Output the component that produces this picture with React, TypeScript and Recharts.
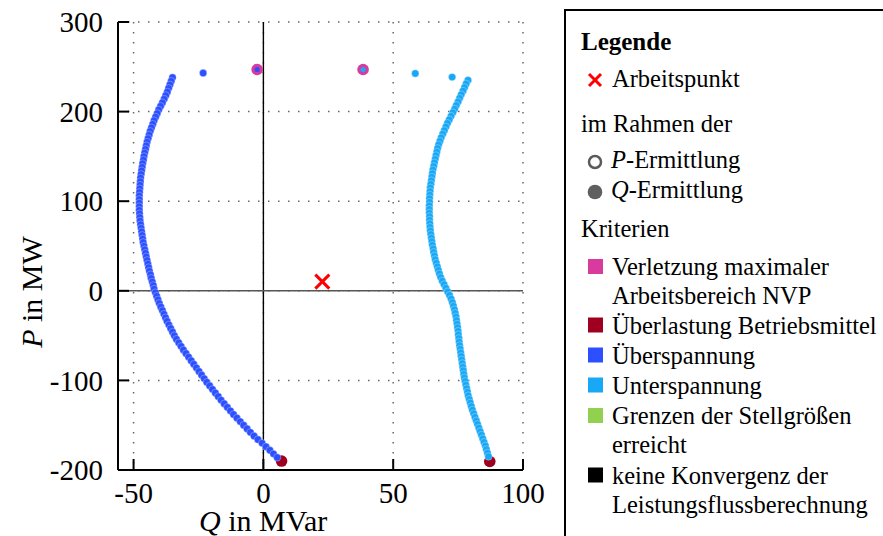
import React from "react"
import {
  CartesianGrid,
  ReferenceLine,
  Scatter,
  ScatterChart,
  XAxis,
  YAxis,
} from "recharts"

const FONT = '"Liberation Serif", "Times New Roman", serif'

// [Q in MVar, P in MW]
const ueberspannungKurve: [number, number][] = [
  [-35.0, 238], [-35.5, 234], [-36.0, 230], [-36.5, 226], [-37.0, 222], [-37.6, 218],
  [-38.2, 214], [-38.9, 210], [-39.6, 206], [-40.3, 202], [-40.9, 198], [-41.5, 194],
  [-42.1, 190], [-42.6, 186], [-43.1, 182], [-43.6, 178], [-44.0, 174], [-44.4, 170],
  [-44.8, 166], [-45.1, 162], [-45.4, 158], [-45.7, 154], [-46.0, 150], [-46.2, 146],
  [-46.5, 142], [-46.7, 138], [-46.9, 134], [-47.1, 130], [-47.3, 126], [-47.4, 122],
  [-47.5, 118], [-47.6, 114], [-47.7, 110], [-47.8, 106], [-47.8, 102], [-47.8, 98],
  [-47.8, 94], [-47.8, 90], [-47.7, 86], [-47.6, 82], [-47.5, 78], [-47.3, 74],
  [-47.1, 70], [-46.9, 66], [-46.7, 62], [-46.5, 58], [-46.3, 54], [-46.0, 50],
  [-45.7, 46], [-45.4, 42], [-45.1, 38], [-44.8, 34], [-44.5, 30], [-44.2, 26],
  [-43.9, 22], [-43.5, 18], [-43.2, 14], [-42.8, 10], [-42.4, 6], [-42.1, 2],
  [-41.6, -2], [-41.1, -6], [-40.6, -10], [-40.1, -14], [-39.5, -18], [-38.9, -22],
  [-38.3, -26], [-37.7, -30], [-37.1, -34], [-36.4, -38], [-35.7, -42], [-35.0, -46],
  [-34.3, -50], [-33.5, -54], [-32.6, -58], [-31.7, -62], [-30.8, -66], [-29.8, -70],
  [-28.8, -74], [-27.8, -78], [-26.8, -82], [-25.8, -86], [-24.8, -90], [-23.8, -94],
  [-22.8, -98], [-21.8, -102], [-20.7, -106], [-19.6, -110], [-18.5, -114], [-17.4, -118],
  [-16.3, -122], [-15.1, -126], [-13.9, -130], [-12.7, -134], [-11.5, -138], [-10.2, -142],
  [-8.9, -146], [-7.6, -150], [-6.3, -154], [-5.0, -158], [-3.6, -162], [-2.1, -166],
  [-0.5, -170], [1.0, -174], [2.5, -178], [3.9, -182], [5.3, -186],
]
const ueberspannungEinzeln: [number, number][] = [[-23.2, 243]]

const unterspannungKurve: [number, number][] = [
  [78.8, 235], [78.1, 231], [77.5, 227], [76.9, 223], [76.2, 219], [75.6, 215],
  [75.0, 211], [74.3, 207], [73.7, 203], [73.0, 199], [72.3, 195], [71.6, 191],
  [70.9, 187], [70.3, 183], [69.7, 179], [69.1, 175], [68.5, 171], [68.0, 167],
  [67.5, 163], [67.1, 159], [66.8, 155], [66.5, 151], [66.2, 147], [65.9, 143],
  [65.6, 139], [65.3, 135], [65.1, 131], [64.9, 127], [64.7, 123], [64.5, 119],
  [64.3, 115], [64.2, 111], [64.1, 107], [64.0, 103], [64.0, 99], [63.9, 95],
  [63.9, 91], [63.9, 87], [64.0, 83], [64.0, 79], [64.1, 75], [64.2, 71],
  [64.3, 67], [64.5, 63], [64.7, 59], [64.9, 55], [65.1, 51], [65.4, 47],
  [65.6, 43], [65.9, 39], [66.2, 35], [66.6, 31], [67.0, 27], [67.4, 23],
  [67.8, 19], [68.3, 15], [68.9, 11], [69.6, 7], [70.3, 3], [71.0, -1],
  [71.7, -5], [72.3, -9], [72.8, -13], [73.2, -17], [73.6, -21], [73.9, -25],
  [74.2, -29], [74.4, -33], [74.6, -37], [74.8, -41], [75.0, -45], [75.1, -49],
  [75.3, -53], [75.4, -57], [75.6, -61], [75.8, -65], [76.0, -69], [76.2, -73],
  [76.4, -77], [76.6, -81], [76.8, -85], [77.0, -89], [77.2, -93], [77.4, -97],
  [77.7, -101], [78.0, -105], [78.3, -109], [78.6, -113], [78.9, -117], [79.3, -121],
  [79.7, -125], [80.1, -129], [80.5, -133], [81.0, -137], [81.5, -141], [82.0, -145],
  [82.5, -149], [83.0, -153], [83.5, -157], [84.0, -161], [84.5, -165], [85.0, -169],
  [85.5, -173], [85.9, -177], [86.3, -181], [86.7, -185],
]
const unterspannungEinzeln: [number, number][] = [[58.5, 242.6], [72.7, 238.5]]

const nvpUeberspannung: [number, number][] = [[-2.4, 247]]
const nvpUnterspannung: [number, number][] = [[38.4, 247]]
const ueberlastung: [number, number][] = [[7.0, -190], [87.2, -190.5]]
const arbeitspunkt: [number, number][] = [[22.7, 10.3]]

const xTicks = [-50, 0, 50, 100]
const yTicks = [-200, -100, 0, 100, 200, 300]

const FARBEN = {
  nvp: "#d83a9e",
  ueberlastung: "#a0001f",
  ueber: "#2c50ff",
  unter: "#18a8f6",
  grenzen: "#92d050",
  konvergenz: "#000000",
}

const toRows = (pts: [number, number][]) => pts.map(([q, p]) => ({ q, p }))

const dot = (color: string, r = 3.7) => (props: any) => (
  <circle cx={props.cx} cy={props.cy} r={r} fill={color} stroke="#ffffff" strokeOpacity={0.5} strokeWidth={0.6} />
)

const nvpDot = (inner: string) => (props: any) => (
  <g>
    <circle cx={props.cx} cy={props.cy} r={5.8} fill={FARBEN.nvp} />
    <circle cx={props.cx} cy={props.cy} r={2.6} fill={inner} />
  </g>
)

const ringDot = (props: any) => (
  <circle cx={props.cx} cy={props.cy} r={5.8} fill={FARBEN.ueberlastung} />
)

const cross = (props: any) => (
  <g stroke="#ff0000" strokeWidth={3}>
    <line x1={props.cx - 7} y1={props.cy - 7} x2={props.cx + 7} y2={props.cy + 7} />
    <line x1={props.cx - 7} y1={props.cy + 7} x2={props.cx + 7} y2={props.cy - 7} />
  </g>
)

const kriterien = [
  { color: FARBEN.nvp, lines: ["Verletzung maximaler", "Arbeitsbereich NVP"], y: 275 },
  { color: FARBEN.ueberlastung, lines: ["Überlastung Betriebsmittel"], y: 333.5 },
  { color: FARBEN.ueber, lines: ["Überspannung"], y: 363.5 },
  { color: FARBEN.unter, lines: ["Unterspannung"], y: 393.5 },
  { color: FARBEN.grenzen, lines: ["Grenzen der Stellgrößen", "erreicht"], y: 424 },
  { color: FARBEN.konvergenz, lines: ["keine Konvergenz der", "Leistungsflussberechnung"], y: 483.5 },
]

function Overlay() {
  return (
    <svg
      width={883}
      height={536}
      style={{ position: "absolute", left: 0, top: 0, pointerEvents: "none" }}
      fontFamily={FONT}
    >
      {/* axis titles */}
      <text x={199} y={531} fontSize={30} fill="#000">
        <tspan fontStyle="italic">Q</tspan> in MVar
      </text>
      <text transform="translate(42,292) rotate(-90)" textAnchor="middle" fontSize={30} fill="#000">
        <tspan fontStyle="italic">P</tspan> in MW
      </text>

      {/* legend box */}
      <rect x={565} y={10} width={330} height={540} fill="none" stroke="#000" strokeWidth={2} />
      <text x={581} y={50} fontSize={25} fontWeight="bold" fill="#000">Legende</text>
      <g stroke="#ff0000" strokeWidth={3}>
        <line x1={589} y1={74} x2={601} y2={86} />
        <line x1={589} y1={86} x2={601} y2={74} />
      </g>
      <text x={612} y={87} fontSize={24.5} fill="#000">Arbeitspunkt</text>
      <text x={581} y={131.5} fontSize={24.5} fill="#000">im Rahmen der</text>
      <circle cx={595} cy={162} r={6} fill="none" stroke="#5a5a5a" strokeWidth={2.5} />
      <text x={611} y={168} fontSize={24.5} fill="#000">
        <tspan fontStyle="italic">P</tspan>-Ermittlung
      </text>
      <circle cx={595} cy={192} r={7.3} fill="#5f5f5f" />
      <text x={611} y={198} fontSize={24.5} fill="#000">
        <tspan fontStyle="italic">Q</tspan>-Ermittlung
      </text>
      <text x={581} y={236.5} fontSize={24.5} fill="#000">Kriterien</text>
      {kriterien.map((k) => (
        <g key={k.lines[0]}>
          <rect x={588} y={k.y - 16} width={15} height={15} fill={k.color} />
          {k.lines.map((line, i) => (
            <text key={line} x={612} y={k.y + i * 29} fontSize={24.5} fill="#000">
              {line}
            </text>
          ))}
        </g>
      ))}
    </svg>
  )
}

export default function App() {
  const tickStyle = { fontSize: 29, fill: "#000", fontFamily: FONT }
  return (
    <div
      style={{
        position: "fixed",
        left: 0,
        top: 0,
        width: 883,
        height: 536,
        overflow: "hidden",
        background: "#fff",
      }}
    >
      <ScatterChart width={560} height={536} margin={{ top: 22, right: 37, bottom: 0, left: 0 }}>
        <CartesianGrid stroke="#666" strokeWidth={1.5} strokeDasharray="1.5 8.5" />
        <XAxis
          type="number"
          dataKey="q"
          domain={[-56, 100]}
          ticks={xTicks}
          allowDataOverflow
          height={66}
          tickSize={-11}
          tickMargin={23}
          axisLine={{ stroke: "#000", strokeWidth: 2 }}
          tickLine={{ stroke: "#000", strokeWidth: 2 }}
          tick={tickStyle}
        />
        <YAxis
          type="number"
          dataKey="p"
          domain={[-200, 300]}
          ticks={yTicks}
          allowDataOverflow
          width={118}
          tickSize={-11}
          tickMargin={26}
          axisLine={{ stroke: "#000", strokeWidth: 2 }}
          tickLine={{ stroke: "#000", strokeWidth: 2 }}
          tick={tickStyle}
        />
        <ReferenceLine x={0} stroke="#000" strokeWidth={1.4} />
        <ReferenceLine y={0} stroke="#555" strokeWidth={1.6} />
        <Scatter data={toRows(ueberlastung)} shape={ringDot} isAnimationActive={false} />
        <Scatter data={toRows(ueberspannungKurve)} shape={dot(FARBEN.ueber)} isAnimationActive={false} />
        <Scatter data={toRows(ueberspannungEinzeln)} shape={dot(FARBEN.ueber)} isAnimationActive={false} />
        <Scatter data={toRows(unterspannungKurve)} shape={dot(FARBEN.unter)} isAnimationActive={false} />
        <Scatter data={toRows(unterspannungEinzeln)} shape={dot(FARBEN.unter)} isAnimationActive={false} />
        <Scatter data={toRows(nvpUeberspannung)} shape={nvpDot(FARBEN.ueber)} isAnimationActive={false} />
        <Scatter data={toRows(nvpUnterspannung)} shape={nvpDot(FARBEN.unter)} isAnimationActive={false} />
        <Scatter data={toRows(arbeitspunkt)} shape={cross} isAnimationActive={false} />
      </ScatterChart>
      <Overlay />
    </div>
  )
}
